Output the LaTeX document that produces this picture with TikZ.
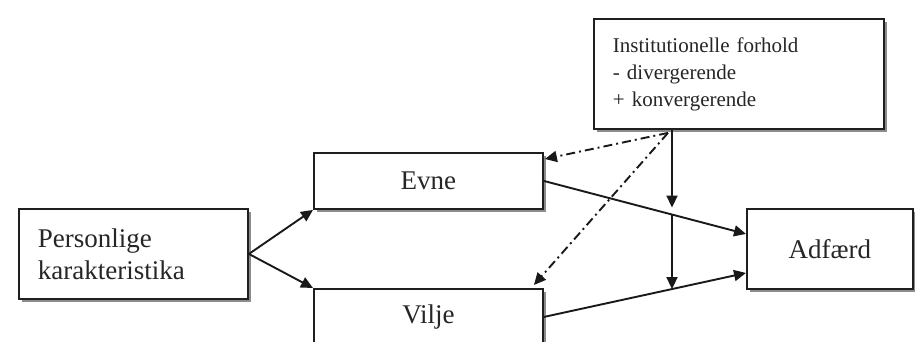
\documentclass[tikz,border=0pt]{standalone}
\usepackage{fontspec}
\setmainfont{Liberation Serif}
\usetikzlibrary{arrows.meta,shadows,calc,intersections}
\begin{document}
\begin{tikzpicture}[x=1pt,y=-1pt,
  box/.style={draw=black!88, line width=1.9pt, fill=white, inner sep=0pt,
    anchor=north west, text=black!85,
    drop shadow={shadow xshift=3pt, shadow yshift=-3pt, fill=black!45, opacity=1}},
  link/.style={draw=black!90, line width=1.9pt, -{Triangle[length=12pt,width=11pt]}},
  dashlink/.style={link, dash pattern=on 9pt off 4pt on 2pt off 4pt},
  big/.style={font=\fontsize{27}{32}\selectfont},
  small/.style={font=\fontsize{21}{27}\selectfont}]
  \useasboundingbox (0,0) rectangle (915,342);
  \clip (0,0) rectangle (915,342);

  % boxes
  \node[box, small, minimum width=290pt, minimum height=110pt,
        inner xsep=19pt, text width=252pt, align=left] (inst) at (593,18)
        {Institutionelle forhold\\- divergerende\\+ konvergerende};
  \node[box, big, minimum width=229pt, minimum height=90pt,
        inner xsep=19pt, text width=191pt, align=left] (pers) at (18,208)
        {Personlige\\karakteristika};
  \node[box, big, minimum width=229pt, minimum height=56pt] (evne) at (313,152) {Evne};
  \node[box, big, minimum width=229pt, minimum height=56pt] (vilje) at (313,288) {Vilje};
  \node[box, big, minimum width=166pt, minimum height=80pt] (adf) at (746,208) {Adfærd};

  % main causal arrows
  \draw[link] (pers.east) -- (evne.south west);
  \draw[link] (pers.east) -- (vilje.north west);
  \draw[link, name path=ea] (evne.east) -- ([yshift=15pt]adf.west);
  \draw[link, name path=va] (vilje.east) -- ([yshift=-24pt]adf.west);

  % moderating influence of the institutional conditions
  \coordinate (itap) at ($(inst.south west)+(79,0)$);
  \path[name path=vert] (itap) -- ++(0,250);
  \path[name intersections={of=vert and ea, by=evx}];
  \path[name intersections={of=vert and va, by=vix}];
  \draw[link, shorten >=7pt] (itap) -- (evx);
  \draw[link] (evx) -- (vix);

  \coordinate (dsrc) at ($(inst.south west)+(75,3)$);
  \draw[dashlink] (dsrc) -- ([xshift=1pt,yshift=-7pt]evne.north east);
  \draw[dashlink] (dsrc) -- ([xshift=-10pt,yshift=3pt]vilje.north east);
\end{tikzpicture}
\end{document}
